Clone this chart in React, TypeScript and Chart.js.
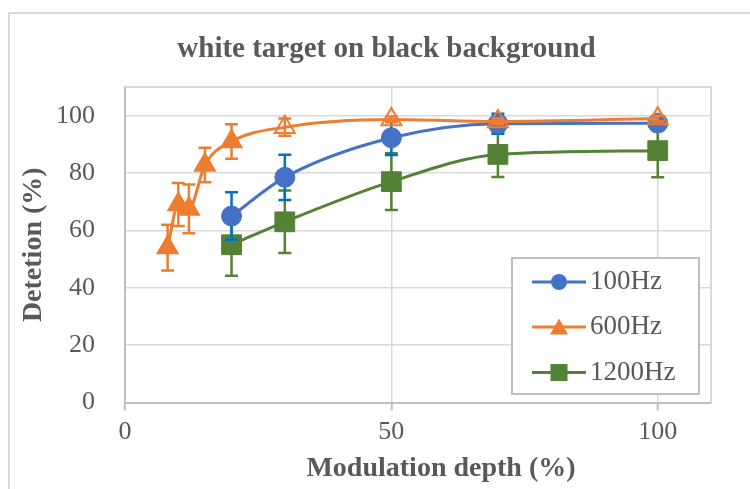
import React, { useEffect, useRef } from 'react';
import { Chart, registerables } from 'chart.js';

Chart.register(...registerables);

// ---- text ----
const TITLE = 'white target on black background';
const X_TITLE = 'Modulation depth (%)';
const Y_TITLE = 'Detetion (%)';

// ---- ticks ----
const X_TICKS = [0, 50, 100];
const Y_TICKS = [0, 20, 40, 60, 80, 100];

// ---- series: 100Hz ----
const X_100 = [20, 30, 50, 70, 100];
const Y_100 = [65, 78.5, 92.3, 97.2, 97.4];
const E_100 = [8.3, 7.9, 6, 3.5, 2];

// ---- series: 600Hz ----
const X_600 = [8, 10, 12, 15, 20, 30, 50, 70, 100];
const Y_600 = [54, 69, 67.5, 82.8, 91, 96, 98.7, 98, 99];
const E_600 = [8, 7.5, 8.5, 6, 6, 3, 1, 1, 1];
const OPEN_600 = [false, false, false, false, false, true, true, true, true];

// ---- series: 1200Hz ----
const X_1200 = [20, 30, 50, 70, 100];
const Y_1200 = [55, 63, 77, 86.5, 87.8];
const E_1200 = [10.8, 10.9, 9.9, 7.9, 9.3];

const BLUE = '#4472C4';
const BLUE_ERR = '#0070C0';
const ORANGE = '#ED7D31';
const GREEN = '#548235';
const TEXT = '#595959';
const FONT = '"Liberation Serif", "Times New Roman", serif';

const errorBars = {
  id: 'errorBars',
  beforeDatasetDraw(chart: any, args: any) {
    const ds: any = chart.data.datasets[args.index];
    if (!ds.errors) return;
    const ctx = chart.ctx;
    const yScale = chart.scales.y;
    ctx.save();
    ctx.strokeStyle = ds.errorColor;
    ctx.lineWidth = 2.5;
    args.meta.data.forEach((pt: any, i: number) => {
      const v = ds.data[i].y;
      const e = ds.errors[i];
      const x = pt.x;
      const yt = yScale.getPixelForValue(v + e);
      const yb = yScale.getPixelForValue(v - e);
      ctx.beginPath();
      ctx.moveTo(x, yt);
      ctx.lineTo(x, yb);
      ctx.moveTo(x - 6.5, yt);
      ctx.lineTo(x + 6.5, yt);
      ctx.moveTo(x - 6.5, yb);
      ctx.lineTo(x + 6.5, yb);
      ctx.stroke();
    });
    ctx.restore();
  },
};

function drawMarker(ctx: CanvasRenderingContext2D, style: string, x: number, y: number, color: string) {
  ctx.fillStyle = color;
  ctx.beginPath();
  if (style === 'circle') {
    ctx.arc(x, y, 8, 0, Math.PI * 2);
  } else if (style === 'triangle') {
    ctx.moveTo(x, y - 8.5);
    ctx.lineTo(x + 9, y + 7.5);
    ctx.lineTo(x - 9, y + 7.5);
    ctx.closePath();
  } else {
    ctx.rect(x - 8.5, y - 8.5, 17, 17);
  }
  ctx.fill();
}

const decor = {
  id: 'decor',
  beforeDatasetsDraw(chart: any) {
    const { ctx, chartArea: a } = chart;
    ctx.save();
    ctx.strokeStyle = '#d9d9d9';
    ctx.lineWidth = 2;
    ctx.beginPath();
    ctx.moveTo(a.left, a.top);
    ctx.lineTo(a.right, a.top);
    ctx.lineTo(a.right, a.bottom);
    ctx.stroke();
    ctx.restore();
  },
  afterDraw(chart: any) {
    const { ctx, chartArea: a } = chart;
    ctx.save();
    ctx.fillStyle = TEXT;
    // chart title
    ctx.font = `bold 29px ${FONT}`;
    ctx.textAlign = 'center';
    ctx.textBaseline = 'alphabetic';
    ctx.fillText(TITLE, 386.5, 57);
    // x title
    ctx.font = `bold 28px ${FONT}`;
    ctx.fillText(X_TITLE, 441, 476);
    // y title
    ctx.save();
    ctx.translate(41, (a.top + a.bottom) / 2);
    ctx.rotate(-Math.PI / 2);
    ctx.fillText(Y_TITLE, 0, 0);
    ctx.restore();

    // legend
    const lx = 512, ly = 258, lw = 187, lh = 136;
    ctx.fillStyle = '#ffffff';
    ctx.fillRect(lx, ly, lw, lh);
    ctx.strokeStyle = '#bfbfbf';
    ctx.lineWidth = 2;
    ctx.strokeRect(lx, ly, lw, lh);
    const rows = [282, 327, 372.5];
    chart.data.datasets.forEach((ds: any, i: number) => {
      const y = rows[i];
      ctx.strokeStyle = ds.borderColor;
      ctx.lineWidth = 3;
      ctx.beginPath();
      ctx.moveTo(532, y);
      ctx.lineTo(586, y);
      ctx.stroke();
      drawMarker(ctx, ds.pointStyle, 559, y, ds.borderColor);
      ctx.fillStyle = TEXT;
      ctx.font = `27px ${FONT}`;
      ctx.textAlign = 'left';
      ctx.textBaseline = 'middle';
      ctx.fillText(ds.label, 590, y);
    });
    ctx.restore();
  },
};

export default function App() {
  const ref = useRef<HTMLCanvasElement>(null);

  useEffect(() => {
    const toXY = (xs: number[], ys: number[]) => xs.map((x, i) => ({ x, y: ys[i] }));
    const chart = new Chart(ref.current as HTMLCanvasElement, {
      type: 'line',
      data: {
        datasets: [
          {
            label: '100Hz',
            data: toXY(X_100, Y_100),
            borderColor: BLUE,
            backgroundColor: BLUE,
            pointBackgroundColor: BLUE,
            pointBorderColor: BLUE,
            pointStyle: 'circle',
            pointRadius: 10,
            pointBorderWidth: 1,
            borderWidth: 3,
            cubicInterpolationMode: 'monotone',
            order: 1,
            errors: E_100,
            errorColor: BLUE_ERR,
          } as any,
          {
            label: '600Hz',
            data: toXY(X_600, Y_600),
            borderColor: ORANGE,
            backgroundColor: ORANGE,
            pointBackgroundColor: OPEN_600.map((o) => (o ? 'rgba(0,0,0,0)' : ORANGE)),
            pointBorderColor: ORANGE,
            pointStyle: 'triangle',
            pointRadius: 11.5,
            pointBorderWidth: 2,
            borderWidth: 3,
            cubicInterpolationMode: 'monotone',
            order: 0,
            errors: E_600,
            errorColor: ORANGE,
          } as any,
          {
            label: '1200Hz',
            data: toXY(X_1200, Y_1200),
            borderColor: GREEN,
            backgroundColor: GREEN,
            pointBackgroundColor: GREEN,
            pointBorderColor: GREEN,
            pointStyle: 'rect',
            pointRadius: 14,
            pointBorderWidth: 1,
            borderWidth: 3,
            cubicInterpolationMode: 'monotone',
            order: 2,
            errors: E_1200,
            errorColor: GREEN,
          } as any,
        ],
      },
      options: {
        responsive: false,
        animation: false,
        devicePixelRatio: 1,
        events: [],
        layout: { padding: { top: 87, right: 39, left: 0, bottom: 0 } },
        plugins: {
          legend: { display: false },
          title: { display: false },
          tooltip: { enabled: false },
        },
        scales: {
          x: {
            type: 'linear',
            min: 0,
            max: 110,
            afterBuildTicks: (axis: any) => {
              axis.ticks = X_TICKS.map((v) => ({ value: v }));
            },
            afterFit: (axis: any) => {
              axis.height = 86.5;
            },
            grid: {
              color: '#d9d9d9',
              lineWidth: 1.5,
              drawTicks: true,
              tickLength: 8,
              tickColor: '#bfbfbf',
              tickWidth: 2,
            },
            border: { color: '#bfbfbf', width: 2 },
            ticks: {
              color: TEXT,
              font: { family: FONT, size: 26 },
              padding: 6,
              maxRotation: 0,
            },
          },
          y: {
            type: 'linear',
            min: 0,
            max: 110,
            afterBuildTicks: (axis: any) => {
              axis.ticks = Y_TICKS.map((v) => ({ value: v }));
            },
            afterFit: (axis: any) => {
              axis.width = 125;
            },
            grid: {
              color: '#d9d9d9',
              lineWidth: 1.5,
              drawTicks: false,
            },
            border: { color: '#bfbfbf', width: 2 },
            ticks: {
              color: TEXT,
              font: { family: FONT, size: 26 },
              padding: 30,
            },
          },
        },
      },
      plugins: [errorBars, decor],
    } as any);
    return () => chart.destroy();
  }, []);

  return (
    <div
      style={{
        position: 'fixed',
        left: 0,
        top: 0,
        width: 750,
        height: 489,
        background: '#ffffff',
        overflow: 'hidden',
      }}
    >
      <div
        style={{
          position: 'absolute',
          left: 8,
          top: 12,
          width: 900,
          height: 700,
          borderLeft: '2px solid #d9d9d9',
          borderTop: '2px solid #d9d9d9',
        }}
      />
      <canvas
        ref={ref}
        width={750}
        height={489}
        style={{ position: 'absolute', left: 0, top: 0, width: 750, height: 489 }}
      />
    </div>
  );
}
